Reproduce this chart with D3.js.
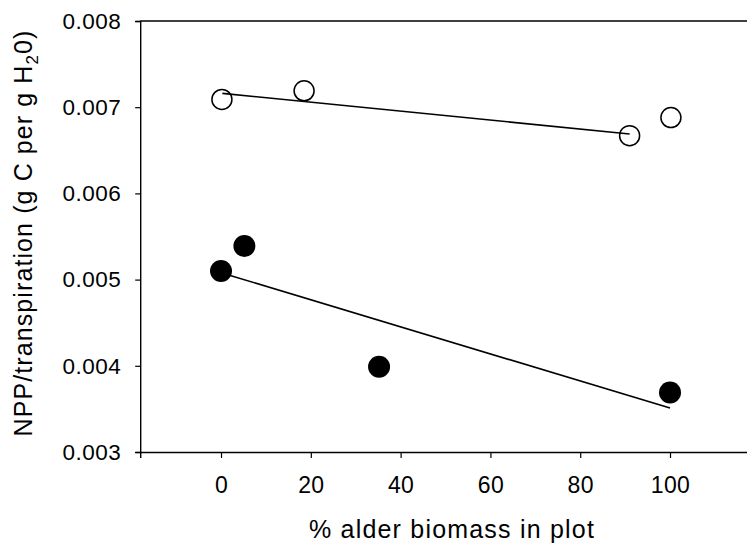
<!DOCTYPE html>
<html><head><meta charset="utf-8">
<script src="https://cdn.jsdelivr.net/npm/d3@7"></script>
<style>body{margin:0;background:#fff}svg{display:block}text{font-family:"Liberation Sans",Arial,sans-serif;fill:#000}</style>
</head><body>
<script>
const openX = [0.2, 18.5, 91, 100.2];
const openY = [0.00709, 0.00719, 0.00667, 0.00688];
const filledX = [0, 5.2, 35.2, 100];
const filledY = [0.00510, 0.00539, 0.00399, 0.00369];
const openFitX = [0.3, 91];
const openFitY = [0.00716, 0.00669];
const filledFitX = [0, 100];
const filledFitY = [0.00508, 0.00351];
const xTicks = [0, 20, 40, 60, 80, 100];
const yTicks = [0.003, 0.004, 0.005, 0.006, 0.007, 0.008];

const W = 747, H = 546;
const svg = d3.select("body").append("svg").attr("width", W).attr("height", H);
const x = d3.scaleLinear().domain([-18, 120]).range([140.2, 140.2 + 138 * 4.49]);
const y = d3.scaleLinear().domain([0.003, 0.008]).range([452, 21]);

// frame
svg.append("line").attr("x1", x(-18)).attr("x2", W + 5).attr("y1", y(0.008)).attr("y2", y(0.008)).attr("stroke", "#000").attr("stroke-width", 1.4);

const xAxis = svg.append("g").attr("transform", `translate(0,${y(0.003)})`)
  .call(d3.axisBottom(x).tickValues(xTicks).tickSize(6).tickPadding(19).tickFormat(d3.format("d")));
xAxis.select(".domain").attr("stroke-width", 1.4);
xAxis.selectAll("text").attr("font-size", 23).attr("letter-spacing", 0.4);

const yAxis = svg.append("g").attr("transform", `translate(${x(-18)},0)`)
  .call(d3.axisLeft(y).tickValues(yTicks).tickSize(5).tickPadding(14).tickFormat(d3.format(".3f")));
yAxis.select(".domain").attr("stroke-width", 1.4);
yAxis.selectAll("text").attr("font-size", 22.5).attr("letter-spacing", 0.5);
svg.selectAll(".tick line").attr("stroke-width", 1.2);

// fit lines
const line = d3.line().x(d => x(d[0])).y(d => y(d[1]));
svg.append("path").attr("d", line(d3.zip(openFitX, openFitY))).attr("fill", "none").attr("stroke", "#000").attr("stroke-width", 1.6);
svg.append("path").attr("d", line(d3.zip(filledFitX, filledFitY))).attr("fill", "none").attr("stroke", "#000").attr("stroke-width", 1.6);

// points
svg.selectAll("circle.open").data(d3.zip(openX, openY)).enter().append("circle")
  .attr("cx", d => x(d[0])).attr("cy", d => y(d[1])).attr("r", 10)
  .attr("fill", "none").attr("stroke", "#000").attr("stroke-width", 1.5);
svg.selectAll("circle.filled").data(d3.zip(filledX, filledY)).enter().append("circle")
  .attr("cx", d => x(d[0])).attr("cy", d => y(d[1])).attr("r", 11)
  .attr("fill", "#000");

// titles
svg.append("text").attr("x", 452).attr("y", 538).attr("text-anchor", "middle").attr("font-size", 25)
  .attr("letter-spacing", 1.2).text("% alder biomass in plot");
const yt = svg.append("text").attr("transform", "translate(32,233) rotate(-90)").attr("text-anchor", "middle")
  .attr("font-size", 25).attr("letter-spacing", 1.1);
yt.append("tspan").text("NPP/transpiration (g C per g H");
yt.append("tspan").attr("font-size", 17).attr("dy", 6).text("2");
yt.append("tspan").attr("dy", -6).text("0)");
</script>
</body></html>
